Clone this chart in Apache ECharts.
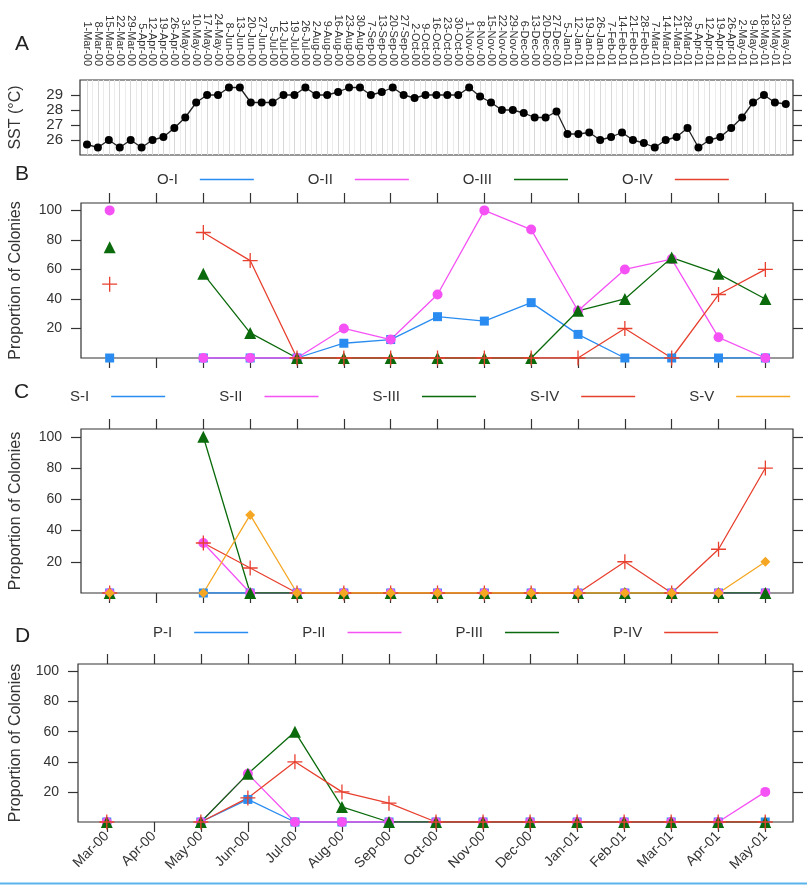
<!DOCTYPE html>
<html><head><meta charset="utf-8">
<script src="https://cdn.jsdelivr.net/npm/echarts@6/dist/echarts.min.js"></script>
<style>html,body{margin:0;padding:0;background:#fff}#c{width:807px;height:885px}</style>
</head><body><div id="c"></div>
<script>
// ---------- data ----------
const weekLabels = ['1-Mar-00','8-Mar-00','15-Mar-00','22-Mar-00','29-Mar-00','5-Apr-00','12-Apr-00','19-Apr-00','26-Apr-00','3-May-00','10-May-00','17-May-00','24-May-00','8-Jun-00','13-Jun-00','20-Jun-00','27-Jun-00','5-Jul-00','12-Jul-00','19-Jul-00','26-Jul-00','2-Aug-00','9-Aug-00','16-Aug-00','23-Aug-00','30-Aug-00','7-Sep-00','13-Sep-00','20-Sep-00','27-Sep-00','2-Oct-00','9-Oct-00','16-Oct-00','23-Oct-00','30-Oct-00','1-Nov-00','8-Nov-00','15-Nov-00','22-Nov-00','29-Nov-00','6-Dec-00','13-Dec-00','20-Dec-00','27-Dec-00','5-Jan-01','12-Jan-01','19-Jan-01','26-Jan-01','7-Feb-01','14-Feb-01','21-Feb-01','28-Feb-01','7-Mar-01','14-Mar-01','21-Mar-01','28-Mar-01','5-Apr-01','12-Apr-01','19-Apr-01','26-Apr-01','2-May-01','9-May-01','18-May-01','23-May-01','30-May-01'];
const sst = [25.7,25.5,26.0,25.5,26.0,25.5,26.0,26.2,26.8,27.5,
             28.5,29.0,29.0,29.5,29.5,28.5,28.5,28.5,29.0,29.0,
             29.5,29.0,29.0,29.2,29.5,29.5,29.0,29.2,29.5,29.0,
             28.8,29.0,29.0,29.0,29.0,29.5,28.9,28.5,28.0,28.0,
             27.8,27.5,27.5,27.9,26.4,26.4,26.5,26.0,26.2,26.5,
             26.0,25.8,25.5,26.0,26.2,26.8,25.5,26.0,26.2,26.8,
             27.5,28.5,29.0,28.5,28.4];
const sstTicks = [26,27,28,29];

const months = ['Mar-00','Apr-00','May-00','Jun-00','Jul-00','Aug-00','Sep-00','Oct-00','Nov-00','Dec-00','Jan-01','Feb-01','Mar-01','Apr-01','May-01'];
const propTicks = [20,40,60,80,100];

const oI   = [0,null,0,0,0,10,12.5,28,25,37.5,16,0,0,0,0];
const oII  = [100,null,0,0,0,20,12.5,43,100,87,32,60,67,14,0];
const oIII = [75,null,57,17,0,0,0,0,0,0,32,40,68,57,40];
const oIV  = [50,null,85,66,0,0,0,0,0,0,0,20,0,43,60];

const sI   = [0,null,0,0,0,0,0,0,0,0,0,0,0,0,0];
const sII  = [0,null,32,0,0,0,0,0,0,0,0,0,0,0,0];
const sIII = [0,null,100,0,0,0,0,0,0,0,0,0,0,0,0];
const sIV  = [0,null,32,16,0,0,0,0,0,0,0,20,0,28,80];
const sV   = [0,null,0,50,0,0,0,0,0,0,0,0,0,0,20];

const pI   = [0,null,0,15,0,0,0,0,0,0,0,0,0,0,0];
const pII  = [0,null,0,32,0,0,0,0,0,0,0,0,0,0,20];
const pIII = [0,null,0,32,60,10,0,0,0,0,0,0,0,0,0];
const pIV  = [0,null,0,16,40,20,12.5,0,0,0,0,0,0,0,0];

// ---------- styling ----------
const FONT = 'Liberation Sans';
const TXT = '#333';
const BLUE = '#2a8cf0', MAG = '#f552f5', GREEN = '#0b6a0b', RED = '#e8402f', ORANGE = '#f5a623';
const PLUS = 'path://M0,5L10,5M5,0L5,10';
const idx = n => Array.from({length: n}, (_, i) => i);
const mIdx = idx(months.length);
const wIdx = idx(weekLabels.length);
const wHalf = idx(weekLabels.length - 1).map(i => i + 0.5);
const MX = [-0.612, 14.59];
const WX = [-0.64, 64.66];

const grids = [
  {left: 74, top: 80, width: 719, height: 75},
  {left: 73, top: 203, width: 720, height: 155},
  {left: 73, top: 429, width: 720, height: 164},
  {left: 69, top: 664, width: 724, height: 158}
].map(g => Object.assign({show: true, borderColor: '#333', borderWidth: 1.2, backgroundColor: 'transparent'}, g));

const tickStyle = {color: '#333', width: 1.2};
function monthX(gi, pos, labels) {
  return {
    type: 'value', gridIndex: gi, position: pos, min: MX[0], max: MX[1],
    axisLine: {show: false, onZero: false},
    axisTick: {show: true, inside: false, length: 10, customValues: mIdx, lineStyle: tickStyle},
    axisLabel: labels ? {show: true, customValues: mIdx, formatter: v => months[v], rotate: 45, margin: 12,
      fontFamily: FONT, fontSize: 14, color: TXT} : {show: false},
    splitLine: {show: false}
  };
}
function propY(gi, pos, name, gap) {
  return {
    type: 'value', gridIndex: gi, position: pos, min: 0, max: 105,
    axisLine: {show: false, onZero: false},
    axisTick: {show: true, inside: false, length: 10, customValues: propTicks, lineStyle: tickStyle},
    axisLabel: pos === 'left' ? {show: true, customValues: propTicks, margin: 19, fontFamily: FONT, fontSize: 14, color: TXT} : {show: false},
    splitLine: {show: false},
    name: name || '', nameLocation: 'middle', nameGap: gap || 0, nameRotate: 90,
    nameTextStyle: {fontFamily: FONT, fontSize: 16, color: TXT}
  };
}

const xAxis = [
  { type: 'value', gridIndex: 0, position: 'bottom', min: WX[0], max: WX[1],
    axisLine: {show: false, onZero: false},
    axisTick: {show: false, customValues: wIdx},
    axisLabel: {show: false},
    splitLine: {show: true, customValues: wIdx, lineStyle: {color: '#d8d8d8', width: 1}} },
  { type: 'value', gridIndex: 0, position: 'top', min: WX[0], max: WX[1],
    axisLine: {show: false, onZero: false},
    axisTick: {show: false, customValues: wHalf},
    axisLabel: {show: true, customValues: wIdx, formatter: v => weekLabels[v], rotate: 90, margin: 14,
      fontFamily: FONT, fontSize: 11, color: TXT},
    splitLine: {show: true, customValues: wHalf, lineStyle: {color: '#ececec', width: 1}} },
  monthX(1, 'bottom', false), monthX(1, 'top', false),
  monthX(2, 'bottom', false), monthX(2, 'top', false),
  monthX(3, 'bottom', true),  monthX(3, 'top', false)
];

const yAxis = [
  { type: 'value', gridIndex: 0, position: 'left', min: 25, max: 30,
    axisLine: {show: false, onZero: false},
    axisTick: {show: true, length: 9, customValues: sstTicks, lineStyle: tickStyle},
    axisLabel: {show: true, customValues: sstTicks, margin: 17, fontFamily: FONT, fontSize: 15, color: TXT},
    splitLine: {show: false},
    name: 'SST (°C)', nameLocation: 'middle', nameGap: 56, nameRotate: 90,
    nameTextStyle: {fontFamily: FONT, fontSize: 16, color: TXT} },
  { type: 'value', gridIndex: 0, position: 'right', min: 25, max: 30,
    axisLine: {show: false, onZero: false},
    axisTick: {show: true, length: 9, customValues: sstTicks, lineStyle: tickStyle},
    axisLabel: {show: false}, splitLine: {show: false} },
  propY(1, 'left', 'Proportion of Colonies', 57), propY(1, 'right'),
  propY(2, 'left', 'Proportion of Colonies', 57), propY(2, 'right'),
  propY(3, 'left', 'Proportion of Colonies', 54), propY(3, 'right')
];

function pts(vals) { return vals.map((v, i) => [i, v === null ? '-' : v]); }
function ser(name, vals, kind, color, panel) {
  const s = {
    name, type: 'line', xAxisIndex: panel * 2, yAxisIndex: panel * 2,
    data: pts(vals), color: color, connectNulls: false, animation: false,
    lineStyle: {color: color, width: 1.3}, emphasis: {disabled: true}
  };
  if (kind === 'sq') { s.symbol = 'rect'; s.symbolSize = 9; }
  else if (kind === 'ci') { s.symbol = 'circle'; s.symbolSize = 10; }
  else if (kind === 'tr') { s.symbol = 'triangle'; s.symbolSize = 12; }
  else if (kind === 'di') { s.symbol = 'diamond'; s.symbolSize = 10; }
  else if (kind === 'pl') { s.symbol = PLUS; s.symbolSize = 15;
    s.itemStyle = {color: color, borderColor: color, borderWidth: 1.3}; }
  return s;
}

const series = [
  { name: 'SST', type: 'line', xAxisIndex: 0, yAxisIndex: 0, data: pts(sst), animation: false,
    symbol: 'circle', symbolSize: 8, color: '#000', lineStyle: {color: '#222', width: 1.3} },
  ser('O-I', oI, 'sq', BLUE, 1), ser('O-II', oII, 'ci', MAG, 1),
  ser('O-III', oIII, 'tr', GREEN, 1), ser('O-IV', oIV, 'pl', RED, 1),
  ser('S-I', sI, 'sq', BLUE, 2), ser('S-II', sII, 'ci', MAG, 2),
  ser('S-III', sIII, 'tr', GREEN, 2), ser('S-IV', sIV, 'pl', RED, 2), ser('S-V', sV, 'di', ORANGE, 2),
  ser('P-I', pI, 'sq', BLUE, 3), ser('P-II', pII, 'ci', MAG, 3),
  ser('P-III', pIII, 'tr', GREEN, 3), ser('P-IV', pIV, 'pl', RED, 3)
];

function leg(names, left, top) {
  return {
    data: names, left: left, top: top, orient: 'horizontal', align: 'right',
    padding: 0, itemGap: 54, itemWidth: 54, itemHeight: 1.6, icon: 'rect',
    itemStyle: {borderWidth: 0},
    textStyle: {fontFamily: FONT, fontSize: 15, color: TXT, padding: [0, 17, 0, 0]},
    selectedMode: false
  };
}

const option = {
  backgroundColor: '#fff',
  animation: false,
  title: [
    {text: 'A', left: 15, top: 34},
    {text: 'B', left: 15, top: 164},
    {text: 'C', left: 14, top: 382},
    {text: 'D', left: 15, top: 626}
  ].map(t => Object.assign({padding: 0, textStyle: {fontFamily: FONT, fontSize: 21, fontWeight: 'normal', color: '#222'}}, t)),
  legend: [
    leg(['O-I','O-II','O-III','O-IV'], 157, 172),
    leg(['S-I','S-II','S-III','S-IV','S-V'], 70, 389),
    leg(['P-I','P-II','P-III','P-IV'], 153, 625)
  ],
  grid: grids,
  xAxis: xAxis,
  yAxis: yAxis,
  series: series,
  graphic: [{type: 'line', shape: {x1: 0, y1: 883.5, x2: 807, y2: 883.5}, style: {stroke: '#5ab4ec', lineWidth: 2}}]
};

const chart = echarts.init(document.getElementById('c'), null, {renderer: 'canvas'});
chart.setOption(option);
</script>
</body></html>
